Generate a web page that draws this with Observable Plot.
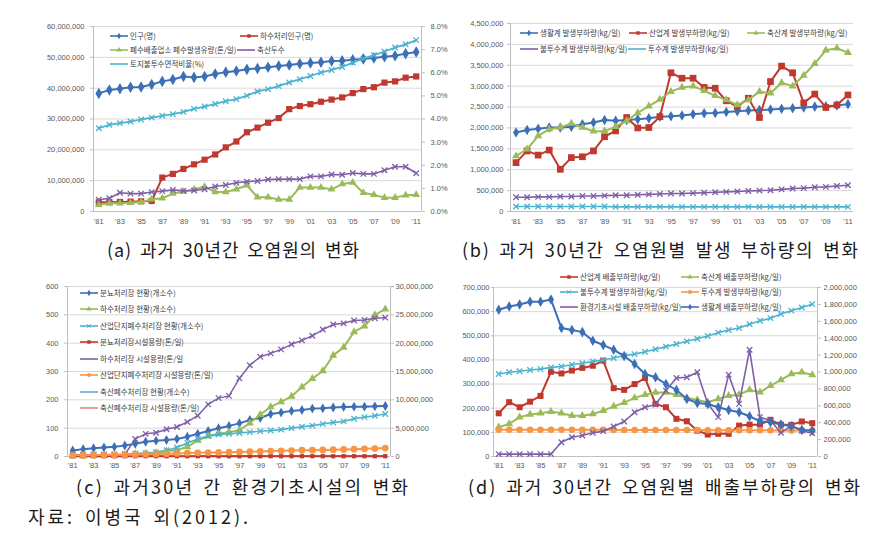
<!DOCTYPE html>
<html><head><meta charset="utf-8">
<script src="https://cdn.jsdelivr.net/npm/d3@7"></script>
<script src="https://cdn.jsdelivr.net/npm/@observablehq/plot@0.6"></script>
<style>
html,body{margin:0;padding:0;background:#fff}
body{width:880px;height:533px;overflow:hidden;position:relative;font-family:"Noto Sans CJK KR","Noto Sans",sans-serif}
.panel{position:absolute}
.panel > svg{position:absolute;left:0;top:0}
.leg{position:absolute;font-size:7.5px;color:#404040;white-space:nowrap;display:flex;align-items:center;height:10px;line-height:10px}
.leg svg{margin-right:2px;flex:none}
#caps{position:absolute;left:0;top:0;pointer-events:none}
</style></head><body>
<script>
// ---------- categories ----------
const years = [1981,1982,1983,1984,1985,1986,1987,1988,1989,1990,1991,1992,1993,1994,1995,1996,1997,1998,1999,2000,2001,2002,2003,2004,2005,2006,2007,2008,2009,2010,2011];
const xTickYears = [1981,1983,1985,1987,1989,1991,1993,1995,1997,1999,2001,2003,2005,2007,2009,2011];

// ---------- (a) 과거 30년간 오염원의 변화 ----------
// left axis (millions)
const aPopulation = [38.3,39.4,39.8,40.3,40.4,41.2,42.2,42.8,43.8,43.5,43.8,44.6,45.2,45.6,46.1,46.4,46.8,47.2,47.5,47.9,48.2,48.4,48.8,48.9,49.2,49.5,49.8,50.2,50.5,51.2,51.7];
const aSewerPop = [3.0,3.0,3.1,3.2,3.3,3.4,11.0,12.2,13.8,15.3,16.8,18.5,20.8,22.7,25.7,27.2,28.8,30.3,33.2,34.2,34.8,35.6,36.3,37.0,38.4,39.7,40.3,41.8,42.2,43.4,43.8];
const aWastewater = [2.2,2.7,2.7,2.8,3.1,4.0,4.3,5.8,6.5,7.2,8.0,6.3,6.3,7.2,8.5,4.6,4.6,3.9,3.9,7.8,7.8,7.8,7.2,8.9,9.4,6.1,5.4,4.5,4.5,5.3,5.4];
const aLivestock = [3.8,4.3,6.1,5.8,5.8,6.3,6.6,7.0,6.7,6.8,7.2,8.1,8.6,9.3,9.7,9.9,10.4,10.5,10.5,10.5,11.4,11.4,12.0,11.9,12.5,12.2,12.2,13.4,14.5,14.5,12.4];
// right axis (%)
const aImpervious = [3.60,3.75,3.82,3.89,3.98,4.06,4.14,4.21,4.31,4.44,4.54,4.65,4.77,4.86,5.01,5.19,5.29,5.42,5.58,5.72,5.86,6.01,6.12,6.25,6.44,6.61,6.76,6.92,7.09,7.23,7.41];
const aLeftTicks = [0,10e6,20e6,30e6,40e6,50e6,60e6];
const aRightTicks = [0,1,2,3,4,5,6,7,8];

// ---------- (b) 과거 30년간 오염원별 발생 부하량의 변화 (millions kg/일) ----------
const bDomestic = [1.89,1.95,1.98,2.01,2.01,2.03,2.09,2.13,2.19,2.17,2.19,2.21,2.23,2.27,2.28,2.30,2.33,2.35,2.36,2.38,2.40,2.42,2.43,2.44,2.46,2.47,2.49,2.51,2.52,2.54,2.57];
const bIndustrial = [1.17,1.45,1.35,1.47,1.01,1.29,1.31,1.45,1.79,1.93,2.25,2.00,2.01,2.27,3.32,3.19,3.19,2.97,2.95,2.65,2.51,2.71,2.25,3.11,3.48,3.32,2.60,2.81,2.49,2.55,2.79];
const bLivestock = [1.33,1.49,1.81,1.97,2.01,2.11,2.01,1.92,1.92,2.03,2.17,2.36,2.52,2.68,2.87,2.97,3.00,2.89,2.77,2.67,2.55,2.67,2.87,2.83,3.08,3.00,3.26,3.54,3.86,3.91,3.80];
const bImpervious = [0.34,0.34,0.35,0.35,0.36,0.36,0.37,0.37,0.38,0.39,0.39,0.40,0.41,0.42,0.43,0.43,0.44,0.45,0.46,0.47,0.48,0.49,0.50,0.51,0.53,0.55,0.56,0.58,0.59,0.61,0.63];
const bPervious = [0.12,0.12,0.12,0.12,0.12,0.12,0.12,0.12,0.12,0.11,0.11,0.11,0.11,0.11,0.11,0.11,0.11,0.11,0.11,0.11,0.11,0.11,0.11,0.11,0.11,0.11,0.11,0.11,0.11,0.11,0.11];
const bTicks = [0,0.5e6,1e6,1.5e6,2e6,2.5e6,3e6,3.5e6,4e6,4.5e6];

// ---------- (c) 과거30년 간 환경기초시설의 변화 ----------
// left axis (개소수)
const cNightSoilCount = [21,26,29,32,34,39,45,52,56,58,62,70,80,90,100,108,117,129,136,150,155,161,164,169,170,173,175,176,176,177,178];
const cSewageCount = [2,2,3,3,4,5,9,11,13,19,22,34,57,72,80,86,93,118,148,175,193,212,245,275,302,357,385,440,460,500,520];
const cIndustrialCount = [3,4,5,6,7,8,10,12,15,22,32,48,62,72,78,80,83,86,89,92,95,100,105,109,115,120,124,133,139,144,150];
const cLivestockCount = [1,1,1,1,1,1,1,2,2,2,2,2,2,3,3,3,3,3,3,3,3,3,3,3,3,3,3,3,3,3,3];
// right axis (톤/일, millions)
const cNightSoilCap = [0.04,0.04,0.04,0.04,0.04,0.04,0.05,0.05,0.05,0.05,0.05,0.05,0.05,0.05,0.05,0.05,0.05,0.05,0.05,0.05,0.05,0.05,0.05,0.05,0.05,0.05,0.05,0.05,0.05,0.05,0.05];
const cSewageCap = [0.3,0.3,0.3,0.3,0.3,0.35,3.1,4.0,4.2,4.8,5.2,6.1,7.2,9.2,10.3,10.7,13.8,16.1,17.6,18.2,18.9,19.8,20.5,21.3,22.4,23.3,23.5,24.0,24.1,24.4,24.5];
const cIndustrialCap = [0.20,0.22,0.25,0.28,0.30,0.33,0.36,0.40,0.45,0.50,0.55,0.60,0.65,0.70,0.72,0.75,0.80,0.85,0.90,0.95,1.00,1.05,1.10,1.12,1.15,1.20,1.25,1.30,1.35,1.40,1.48];
const cLivestockCap = [0.01,0.01,0.01,0.01,0.01,0.01,0.01,0.01,0.01,0.01,0.01,0.01,0.01,0.01,0.01,0.01,0.01,0.01,0.01,0.01,0.01,0.01,0.01,0.01,0.01,0.01,0.01,0.01,0.01,0.01,0.01];
const cLeftTicks = [0,100,200,300,400,500,600];
const cRightTicks = [0,5e6,10e6,15e6,20e6,25e6,30e6];

// ---------- (d) 과거 30년간 오염원별 배출부하량의 변화 (thousand kg/일) ----------
const dIndustrial = [179,225,204,227,251,351,344,356,367,376,397,283,276,300,325,218,204,156,146,107,91,94,94,128,132,132,152,132,131,145,138];
const dLivestock = [121,135,163,174,179,186,179,169,169,176,190,207,223,243,256,265,265,256,243,234,225,238,252,256,276,266,293,317,342,349,338];
const dImpervious = [342,349,353,358,362,369,373,380,386,394,400,408,418,424,434,444,455,466,477,488,499,513,524,532,548,562,573,590,604,617,631];
const dPervious = [111,111,111,111,111,111,111,111,111,111,111,110,110,110,110,110,110,110,110,110,109,109,109,109,109,109,109,108,108,108,108];
const dFacility = [10,10,10,10,10,10,59,80,87,98,105,124,145,183,204,215,273,325,328,349,218,163,339,218,442,163,149,98,128,107,96];
// right axis
const dDomestic = [1736,1776,1799,1831,1831,1858,1520,1496,1472,1370,1319,1264,1189,1094,976,937,858,787,681,634,622,583,551,524,476,417,406,378,358,315,307];
const dLeftTicks = [0,100e3,200e3,300e3,400e3,500e3,600e3,700e3];
const dRightTicks = [0,200e3,400e3,600e3,800e3,1000e3,1200e3,1400e3,1600e3,1800e3,2000e3];

// ---------- colours ----------
const C = {blue:"#3d6fb6", red:"#c0392f", green:"#9bbb59", purple:"#7e5fa6", cyan:"#4bb3cf", orange:"#f79646", lblue:"#6aa6d8", pink:"#e8897e"};

// ---------- helpers ----------
const fmtComma = d3.format(",");
const yearFmt = d => "'" + String(d).slice(2);

function rows(values, scale){ return years.map((year,i) => ({year, v: values[i]*scale})); }

function seriesMarks(s){
  const data = rows(s.values, s.scale);
  const m = [Plot.line(data, {x:"year", y:"v", stroke:s.color, strokeWidth:s.sw ?? 2})];
  if (s.symbol){
    if (s.symbol === "times") m.push(Plot.dot(data, {x:"year", y:"v", symbol:"times", r:s.r ?? 2.6, stroke:s.color, strokeWidth:1.3, fill:"none"}));
    else m.push(Plot.dot(data, {x:"year", y:"v", symbol:s.symbol, r:s.r ?? 3, fill:s.color, stroke:"none"}));
  }
  return m;
}

function makePanel(cfg){
  const div = document.createElement("div");
  div.className = "panel";
  Object.assign(div.style, {left:cfg.left+"px", top:cfg.top+"px", width:cfg.width+"px", height:cfg.height+"px"});
  document.body.appendChild(div);
  const common = {
    width:cfg.width, height:cfg.height,
    marginLeft:cfg.ml, marginRight:cfg.mr, marginTop:cfg.mt, marginBottom:cfg.mb,
    style:{background:"transparent", overflow:"visible", fontFamily:"'Liberation Sans', Arial, sans-serif", fontSize:"7.5px", color:"#595959"}
  };
  const p1 = Plot.plot({
    ...common,
    x:{domain:[1980.5, 2011.5]},
    y:{domain:cfg.yDomain},
    marks:[
      Plot.gridY({ticks:cfg.yTicks, stroke:"#d9d9d9", strokeOpacity:1}),
      Plot.ruleX([1980.5], {stroke:"#bfbfbf"}),
      Plot.ruleY([0], {stroke:"#bfbfbf"}),
      Plot.axisY({ticks:cfg.yTicks, tickFormat:cfg.yFormat, tickSize:cfg.yTick ?? 3, tickPadding:cfg.yPad, stroke:"#bfbfbf", fill:"#595959", label:null}),
      Plot.axisX({ticks:xTickYears, tickFormat:yearFmt, tickSize:0, tickPadding:cfg.xPad, fill:"#595959", label:null}),
      ...cfg.series.flatMap(seriesMarks)
    ]
  });
  div.appendChild(p1);
  if (cfg.series2){
    const p2 = Plot.plot({
      ...common,
      x:{domain:[1980.5, 2011.5], axis:null},
      y:{domain:cfg.y2Domain},
      marks:[
        Plot.ruleX([2011.5], {stroke:"#bfbfbf"}),
        Plot.axisY({anchor:"right", ticks:cfg.y2Ticks, tickFormat:cfg.y2Format, tickSize:3, tickPadding:cfg.y2Pad, stroke:"#bfbfbf", fill:"#595959", label:null}),
        ...cfg.series2.flatMap(seriesMarks)
      ]
    });
    div.appendChild(p2);
  }
}

const symType = {diamond:d3.symbolDiamond, square:d3.symbolSquare, triangle:d3.symbolTriangle, times:d3.symbolTimes, circle:d3.symbolCircle};
function legendItem(x, y, label, color, symbol){
  const d = document.createElement("div");
  d.className = "leg";
  d.style.left = x+"px"; d.style.top = (y-5)+"px";
  const svg = d3.create("svg").attr("width",18).attr("height",10);
  svg.append("line").attr("x1",0).attr("x2",18).attr("y1",5).attr("y2",5).attr("stroke",color).attr("stroke-width",1.6);
  if (symbol){
    const p = svg.append("path").attr("transform","translate(9,5)").attr("d", d3.symbol(symType[symbol], symbol==="times"?10:12)());
    if (symbol === "times") p.attr("fill","none").attr("stroke",color).attr("stroke-width",1);
    else p.attr("fill",color);
  }
  d.appendChild(svg.node());
  const t = document.createElement("span");
  t.textContent = label;
  d.appendChild(t);
  document.body.appendChild(d);
}

// ---------- panel (a) ----------
makePanel({
  left:0, top:0, width:440, height:240, ml:93, mr:19, mt:26, mb:29,
  yDomain:[0,60e6], yTicks:aLeftTicks, yFormat:fmtComma, yPad:6, xPad:7,
  series:[
    {values:aPopulation, scale:1e6, color:C.blue, symbol:"diamond", r:3.5},
    {values:aSewerPop, scale:1e6, color:C.red, symbol:"square", r:3.5},
    {values:aWastewater, scale:1e6, color:C.green, symbol:"triangle", r:2.9},
    {values:aLivestock, scale:1e6, color:C.purple, symbol:"times", sw:1.6}
  ],
  y2Domain:[0,8], y2Ticks:aRightTicks, y2Format:d => d.toFixed(1)+"%", y2Pad:6,
  series2:[{values:aImpervious, scale:1, color:C.cyan, symbol:"times", sw:1.8}]
});
legendItem(110,36,"인구(명)",C.blue,"diamond");
legendItem(240,36,"하수처리인구(명)",C.red,"square");
legendItem(110,50,"폐수배출업소 폐수발생유량(톤/일)",C.green,"triangle");
legendItem(237,50,"축산두수",C.purple,null);
legendItem(110,64,"토지불투수면적비율(%)",C.cyan,null);

// ---------- panel (b) ----------
makePanel({
  left:440, top:0, width:440, height:240, ml:70, mr:27, mt:23, mb:29,
  yDomain:[0,4.5e6], yTicks:bTicks, yFormat:fmtComma, yPad:4, xPad:7,
  series:[
    {values:bDomestic, scale:1e6, color:C.blue, symbol:"diamond", r:3.2},
    {values:bIndustrial, scale:1e6, color:C.red, symbol:"square", r:3.8},
    {values:bLivestock, scale:1e6, color:C.green, symbol:"triangle", r:3},
    {values:bImpervious, scale:1e6, color:C.purple, symbol:"times", sw:1.6},
    {values:bPervious, scale:1e6, color:C.cyan, symbol:"times", sw:1.6}
  ]
});
legendItem(520,33,"생활계 발생부하량(kg/일)",C.blue,"diamond");
legendItem(629,33,"산업계 발생부하량(kg/일)",C.red,"square");
legendItem(747,33,"축산계 발생부하량(kg/일)",C.green,"triangle");
legendItem(520,49,"불투수계 발생부하량(kg/일)",C.purple,null);
legendItem(628,49,"투수계 발생부하량(kg/일)",C.cyan,null);

// ---------- panel (c) ----------
makePanel({
  left:0, top:270, width:440, height:210, ml:67, mr:50, mt:16, mb:24,
  yDomain:[0,600], yTicks:cLeftTicks, yFormat:fmtComma, yPad:6, xPad:6,
  series:[
    {values:cLivestockCount, scale:1, color:C.lblue, symbol:null, sw:1.2},
    {values:cNightSoilCount, scale:1, color:C.blue, symbol:"diamond", r:3},
    {values:cSewageCount, scale:1, color:C.green, symbol:"triangle", r:3},
    {values:cIndustrialCount, scale:1, color:C.cyan, symbol:"times", sw:1.6}
  ],
  y2Domain:[0,30e6], y2Ticks:cRightTicks, y2Format:fmtComma, y2Pad:2,
  series2:[
    {values:cLivestockCap, scale:1e6, color:C.pink, symbol:null, sw:1.2},
    {values:cNightSoilCap, scale:1e6, color:C.red, symbol:"square", r:2.4},
    {values:cSewageCap, scale:1e6, color:C.purple, symbol:"times", sw:1.5},
    {values:cIndustrialCap, scale:1e6, color:C.orange, symbol:"circle", r:3.4}
  ]
});
const cLegY = [292.5,309,325.5,342,358.5,375,391.5,408];
legendItem(80,cLegY[0],"분뇨처리장 현황(개소수)",C.blue,"diamond");
legendItem(80,cLegY[1],"하수처리장 현황(개소수)",C.green,"triangle");
legendItem(80,cLegY[2],"산업단지폐수처리장 현황(개소수)",C.cyan,"times");
legendItem(80,cLegY[3],"분뇨처리장시설용량(톤/일)",C.red,"square");
legendItem(80,cLegY[4],"하수처리장 시설용량(톤/일",C.purple,null);
legendItem(80,cLegY[5],"산업단지폐수처리장 시설용량(톤/일)",C.orange,"circle");
legendItem(80,cLegY[6],"축산폐수처리장 현황(개소수)",C.lblue,null);
legendItem(80,cLegY[7],"축산폐수처리장 시설용량(톤/일)",C.pink,null);

// ---------- panel (d) ----------
makePanel({
  left:440, top:270, width:440, height:210, ml:53, mr:63, mt:17, mb:24,
  yDomain:[0,700e3], yTicks:dLeftTicks, yFormat:fmtComma, yTick:2, yPad:2, xPad:6,
  series:[
    {values:dIndustrial, scale:1e3, color:C.red, symbol:"square", r:3.4},
    {values:dLivestock, scale:1e3, color:C.green, symbol:"triangle", r:3},
    {values:dImpervious, scale:1e3, color:C.cyan, symbol:"times", sw:1.6},
    {values:dPervious, scale:1e3, color:C.orange, symbol:"circle", r:3.3},
    {values:dFacility, scale:1e3, color:C.purple, symbol:"times", sw:1.6}
  ],
  y2Domain:[0,2000e3], y2Ticks:dRightTicks, y2Format:fmtComma, y2Pad:3,
  series2:[{values:dDomestic, scale:1e3, color:C.blue, symbol:"diamond", r:3.2}]
});
legendItem(560,277,"산업계 배출부하량(kg/일)",C.red,"square");
legendItem(681,277,"축산계 배출부하량(kg/일)",C.green,"triangle");
legendItem(560,292,"불투수계 발생부하량(kg/일)",C.cyan,"times");
legendItem(681,292,"투수계 발생부하량(kg/일)",C.orange,"circle");
legendItem(560,307,"환경기초시설 배출부하량(kg/일)",C.purple,null);
legendItem(681,307,"생활계 배출부하량(kg/일)",C.blue,"diamond");

// ---------- captions ----------
const captions = [
  {text:"(a) 과거 30년간 오염원의 변화", x:107, y:257, w:252},
  {text:"(b) 과거 30년간 오염원별 발생 부하량의 변화", x:462, y:257, w:396},
  {text:"(c) 과거30년 간 환경기초시설의 변화", x:76, y:494, w:332},
  {text:"(d) 과거 30년간 오염원별 배출부하량의 변화", x:468, y:494, w:392},
  {text:"자료: 이병국 외(2012).", x:28, y:524, w:220}
];
const capSvg = d3.create("svg").attr("id","caps").attr("width",880).attr("height",533);
capSvg.selectAll("text").data(captions).join("text")
  .attr("x", d => d.x).attr("y", d => d.y)
  .attr("textLength", d => d.w).attr("lengthAdjust","spacing")
  .attr("font-family","'Noto Sans CJK KR', sans-serif").attr("font-size",18).attr("fill","#1a1a1a")
  .style("word-spacing","3px")
  .text(d => d.text);
document.body.appendChild(capSvg.node());
</script>
</body></html>
